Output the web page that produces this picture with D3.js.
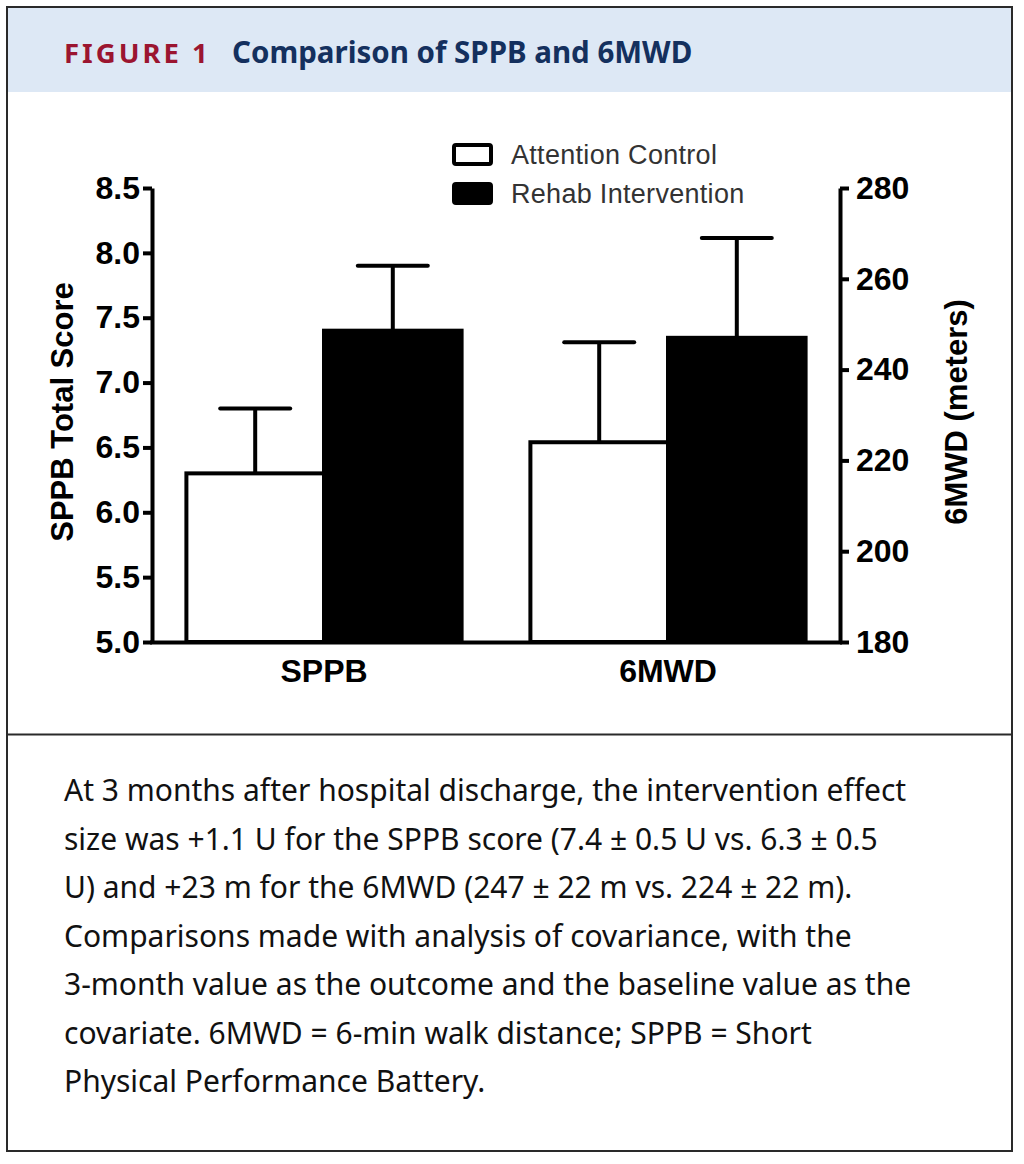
<!DOCTYPE html>
<html><head><meta charset="utf-8">
<script src="https://cdn.jsdelivr.net/npm/d3@7"></script>
<style>body{margin:0;background:#fff} svg{display:block}</style>
</head><body>
<script>
// ---- data ----
const categories = ["SPPB", "6MWD"];
const groups = ["Attention Control", "Rehab Intervention"];
const controlMeans = [6.3, 224];
const rehabMeans = [7.4, 247];
const controlErr = [0.5, 22];
const rehabErr = [0.5, 22];
const leftTicks = [5.0, 5.5, 6.0, 6.5, 7.0, 7.5, 8.0, 8.5];
const rightTicks = [180, 200, 220, 240, 260, 280];
const leftDomain = [5, 8.5];
const rightDomain = [180, 280];
const captionLines = [
  "At 3 months after hospital discharge, the intervention effect",
  "size was +1.1 U for the SPPB score (7.4 \u00B1 0.5 U vs. 6.3 \u00B1 0.5",
  "U) and +23 m for the 6MWD (247 \u00B1 22 m vs. 224 \u00B1 22 m).",
  "Comparisons made with analysis of covariance, with the",
  "3-month value as the outcome and the baseline value as the",
  "covariate. 6MWD = 6-min walk distance; SPPB = Short",
  "Physical Performance Battery."
];

const W = 1024, H = 1164;
const svg = d3.select("body").append("svg").attr("width", W).attr("height", H);

// frame
svg.append("rect").attr("x", 7).attr("y", 7).attr("width", 1005).attr("height", 85).attr("fill", "#dde8f5");
svg.append("rect").attr("x", 7).attr("y", 7).attr("width", 1005).attr("height", 1144)
  .attr("fill", "none").attr("stroke", "#2a2a2a").attr("stroke-width", 2);
svg.append("line").attr("x1", 7).attr("x2", 1012).attr("y1", 734.5).attr("y2", 734.5)
  .attr("stroke", "#2a2a2a").attr("stroke-width", 2);

// header
const head = svg.append("text").attr("x", 64).attr("y", 63)
  .style("font-family", "'Noto Sans', sans-serif").style("font-weight", "bold");
head.append("tspan").text("FIGURE 1").attr("fill", "#9b1530").style("letter-spacing", "3px").style("font-size", "27.5px");
head.append("tspan").text("Comparison of SPPB and 6MWD").attr("x", 232).attr("fill", "#14305e").style("font-size", "29.5px");

// scales
const plotL = 152, plotR = 840, yBase = 642, yTop = 188;
const x0 = d3.scaleBand().domain(categories).range([plotL, plotR]).paddingInner(0.2).paddingOuter(0.1);
const x1 = d3.scaleBand().domain(groups).range([0, x0.bandwidth()]);
const yLeft = d3.scaleLinear().domain(leftDomain).range([yBase, yTop]);
const yRight = d3.scaleLinear().domain(rightDomain).range([yBase, yTop]);
const yFor = i => i === 0 ? yLeft : yRight;

const chartFont = "'Liberation Sans', Arial, sans-serif";

// bars
const rows = [];
categories.forEach((c, i) => {
  rows.push({cat: c, i, grp: groups[0], v: controlMeans[i], e: controlErr[i], fill: "#fff"});
  rows.push({cat: c, i, grp: groups[1], v: rehabMeans[i], e: rehabErr[i], fill: "#000"});
});

const g = svg.append("g");
rows.forEach(d => {
  const y = yFor(d.i);
  const bx = x0(d.cat) + x1(d.grp);
  const cx = bx + x1.bandwidth() / 2;
  g.append("line").attr("x1", cx).attr("x2", cx).attr("y1", y(d.v)).attr("y2", y(d.v + d.e))
    .attr("stroke", "#000").attr("stroke-width", 4);
  g.append("line").attr("x1", cx - 35).attr("x2", cx + 35).attr("y1", y(d.v + d.e)).attr("y2", y(d.v + d.e))
    .attr("stroke", "#000").attr("stroke-width", 4).attr("stroke-linecap", "round");
});
rows.forEach(d => {
  const y = yFor(d.i);
  const bx = x0(d.cat) + x1(d.grp);
  g.append("rect").attr("x", bx).attr("y", y(d.v)).attr("width", x1.bandwidth()).attr("height", yBase - y(d.v))
    .attr("fill", d.fill).attr("stroke", "#000").attr("stroke-width", 4);
});

// axes
function styleAxis(sel) {
  sel.selectAll(".domain").attr("stroke", "#000").attr("stroke-width", 4);
  sel.selectAll(".tick line").attr("stroke", "#000").attr("stroke-width", 4);
  sel.selectAll("text").style("font-family", chartFont).style("font-weight", "bold")
    .style("font-size", "32px").attr("fill", "#000");
}
const axL = svg.append("g").attr("transform", `translate(${plotL},0)`)
  .call(d3.axisLeft(yLeft).tickValues(leftTicks).tickFormat(d3.format(".1f")).tickSize(9).tickSizeOuter(0).tickPadding(3));
styleAxis(axL);
const axR = svg.append("g").attr("transform", `translate(${plotR},0)`)
  .call(d3.axisRight(yRight).tickValues(rightTicks).tickFormat(d3.format("d")).tickSize(9).tickSizeOuter(0).tickPadding(7));
styleAxis(axR);
const axB = svg.append("g").attr("transform", `translate(0,${yBase})`)
  .call(d3.axisBottom(x0).tickSize(0).tickSizeOuter(0).tickPadding(17));
styleAxis(axB);
axB.select(".domain").attr("d", `M${plotL - 2},0.5H${plotR + 2}`);

// axis titles
svg.append("text").attr("transform", "translate(62,412) rotate(-90)")
  .attr("text-anchor", "middle").attr("dominant-baseline", "central")
  .style("font-family", chartFont).style("font-weight", "bold").style("font-size", "31px")
  .text("SPPB Total Score");
svg.append("text").attr("transform", "translate(956,412) rotate(-90)")
  .attr("text-anchor", "middle").attr("dominant-baseline", "central")
  .style("font-family", chartFont).style("font-weight", "bold").style("font-size", "31px")
  .text("6MWD (meters)");

// legend
const legFills = ["#fff", "#000"];
groups.forEach((name, i) => {
  const ly = 145 + i * 39;
  svg.append("rect").attr("x", 454).attr("y", ly).attr("width", 37).attr("height", 19).attr("rx", 2)
    .attr("fill", legFills[i]).attr("stroke", "#000").attr("stroke-width", 4);
  svg.append("text").attr("x", 511).attr("y", ly + 19)
    .style("font-family", chartFont).style("font-size", "27px").attr("fill", "#333")
    .style("letter-spacing", "0.3px")
    .text(name);
});

// caption
const cap = svg.append("g");
captionLines.forEach((t, i) => {
  cap.append("text").attr("x", 64).attr("y", 801 + i * 48.5)
    .style("font-family", "'Noto Sans', sans-serif").style("font-size", "30px").attr("fill", "#111")
    .text(t);
});
</script>
</body></html>
